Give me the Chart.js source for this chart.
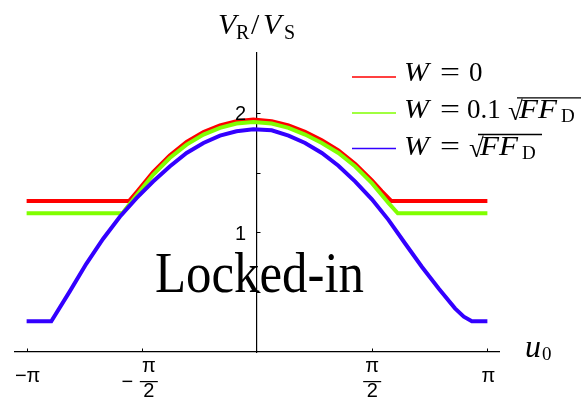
<!DOCTYPE html>
<html>
<head>
<meta charset="utf-8">
<script src="https://cdn.jsdelivr.net/npm/chart.js@4.4.1/dist/chart.umd.min.js"></script>
<style>
  html, body { margin: 0; padding: 0; background: #fff; }
  #chart { display: block; }
</style>
</head>
<body>
<canvas id="chart" width="587" height="406"></canvas>
<script>
// V_R / V_S against u0 (rad), one pair of arrays per curve
const redU   = [-3.1416, -1.745, -1.64, -1.417, -1.19, -0.96, -0.73, -0.505, -0.28, -0.05, 0.2, 0.43, 0.656, 0.884, 1.11, 1.34, 1.567, 1.70, 1.83, 3.1416];
const redV   = [1.263, 1.263, 1.338, 1.504, 1.644, 1.756, 1.840, 1.895, 1.930, 1.944, 1.930, 1.895, 1.840, 1.770, 1.686, 1.573, 1.434, 1.345, 1.263, 1.263];

const greenU = [-3.1416, -1.835, -1.64, -1.417, -1.19, -0.96, -0.73, -0.505, -0.28, -0.05, 0.2, 0.43, 0.656, 0.884, 1.11, 1.34, 1.567, 1.795, 1.92, 3.1416];
const greenV = [1.160, 1.160, 1.313, 1.482, 1.622, 1.734, 1.818, 1.874, 1.910, 1.924, 1.910, 1.874, 1.818, 1.748, 1.664, 1.551, 1.412, 1.244, 1.160, 1.160];

const blueU  = [-3.1416, -2.805, -2.555, -2.33, -2.10, -1.87, -1.643, -1.417, -1.19, -0.96, -0.73, -0.505, -0.28, -0.05, 0.2, 0.43, 0.656, 0.884, 1.11, 1.34, 1.567, 1.795, 2.02, 2.25, 2.48, 2.70, 2.82, 2.93, 3.1416];
const blueV  = [0.257, 0.257, 0.505, 0.735, 0.945, 1.131, 1.286, 1.425, 1.551, 1.664, 1.748, 1.809, 1.845, 1.862, 1.854, 1.809, 1.748, 1.664, 1.557, 1.425, 1.277, 1.103, 0.907, 0.711, 0.529, 0.365, 0.295, 0.257, 0.257];

const seriesNames  = ['W = 0', 'W = 0.1 √FF_D', 'W = √FF_D'];
const seriesColors = ['#ff0000', '#80ff00', '#3300ff'];

const xTickValues = [-Math.PI, -Math.PI / 2, Math.PI / 2, Math.PI];
const xTickLabels = ['−π', '−π/2', 'π/2', 'π'];
const yLabelValues = [1, 2];

const SERIF = '"Liberation Serif", "DejaVu Serif", serif';
const SANS = '"Liberation Sans", Arial, sans-serif';

function pts(us, vs) { return us.map((u, i) => ({ x: u, y: vs[i] })); }

// squeeze/stretch a string to a given width
function fitText(ctx, text, x, y, w) {
  const m = ctx.measureText(text).width;
  ctx.save();
  ctx.translate(x, y);
  ctx.scale(w / m, 1);
  ctx.fillText(text, 0, 0);
  ctx.restore();
}

function seg(ctx, x1, y1, x2, y2) {
  ctx.beginPath(); ctx.moveTo(x1, y1); ctx.lineTo(x2, y2); ctx.stroke();
}

// tick marks, tick labels, axis names, legend and the region label
const decor = {
  id: 'decor',
  afterDraw(chart) {
    const { ctx, scales: { x, y } } = chart;
    const x0 = x.getPixelForValue(0);
    const y0 = y.getPixelForValue(0);
    ctx.save();
    ctx.strokeStyle = '#000';
    ctx.fillStyle = '#000';
    ctx.lineWidth = 1;

    // inward ticks
    x.ticks.forEach(t => {
      const px = Math.round(x.getPixelForValue(t.value)) + 0.5;
      seg(ctx, px, y0, px, y0 - 3.5);
    });
    y.ticks.forEach(t => {
      if (t.value <= y.min || t.value >= y.max) return;
      const py = Math.round(y.getPixelForValue(t.value)) + 0.5;
      seg(ctx, x0, py, x0 + 3.5, py);
    });

    // y labels
    ctx.font = '20px ' + SANS;
    ctx.textAlign = 'right';
    ctx.textBaseline = 'alphabetic';
    yLabelValues.forEach(v => {
      ctx.fillText(String(v), x0 - 11, y.getPixelForValue(v) + 7.4);
    });

    // x labels, halves written as stacked fractions
    ctx.textAlign = 'center';
    xTickValues.forEach((v, i) => {
      const px = x.getPixelForValue(v);
      const lab = xTickLabels[i];
      if (lab.indexOf('/') < 0) {
        ctx.fillText(lab, px + 1, y0 + 29.5);
        return;
      }
      const neg = lab[0] === '−';
      const [num, den] = lab.replace('−', '').split('/');
      const fx = neg ? px + 7 : px;
      if (neg) ctx.fillText('−', px - 14.5, y0 + 36);
      ctx.fillText(num, fx, y0 + 19.5);
      ctx.fillRect(fx - 9, y0 + 29, 18, 1.2);
      ctx.fillText(den, fx, y0 + 45.3);
    });

    // axis names
    ctx.textAlign = 'left';
    ctx.font = 'italic 30px ' + SERIF;
    ctx.fillText('V', 218, 33.5);
    ctx.font = '20px ' + SERIF;
    ctx.fillText('R', 236, 39.3);
    ctx.font = '30px ' + SERIF;
    ctx.fillText('/', 251, 33.5);
    ctx.font = 'italic 30px ' + SERIF;
    ctx.fillText('V', 263, 33.5);
    ctx.font = '20px ' + SERIF;
    ctx.fillText('S', 284, 39.3);

    ctx.font = 'italic 32px ' + SERIF;
    ctx.fillText('u', 525, 356.5);
    ctx.font = '19px ' + SERIF;
    ctx.fillText('0', 542, 359.5);

    // legend
    const rows = [
      { line: 77,    base: 81,    coef: '0',   coefX: 469, rootX: null },
      { line: 113,   base: 118.3, coef: '0.1', coefX: 467, rootX: 508 },
      { line: 148.5, base: 155,   coef: '',    coefX: 0,   rootX: 469 }
    ];
    rows.forEach((r, i) => {
      ctx.strokeStyle = chart.data.datasets[i].borderColor;
      ctx.lineWidth = 1.6;
      seg(ctx, 352, r.line, 396, r.line);
      ctx.fillStyle = '#000';
      ctx.strokeStyle = '#000';
      ctx.font = 'italic 27px ' + SERIF;
      fitText(ctx, 'W', 404, r.base, 25);
      ctx.font = '27px ' + SERIF;
      fitText(ctx, '=', 440, r.base, 20);
      if (r.coef) ctx.fillText(r.coef, r.coefX, r.base);
      if (r.rootX !== null) {
        ctx.fillText('√', r.rootX, r.base + 2);
        const fx = r.rootX + 11;
        ctx.font = 'italic 27px ' + SERIF;
        fitText(ctx, 'FF', fx, r.base, 38);
        ctx.font = '19px ' + SERIF;
        ctx.fillText('D', fx + 42, r.base + 4);
        ctx.lineWidth = 1.3;
        seg(ctx, r.rootX + 9, r.base - 20.5, fx + 62, r.base - 20.5);
      }
    });

    // region label
    ctx.font = '56px ' + SERIF;
    fitText(ctx, 'Locked-in', 155, 292, 209);
    ctx.restore();
  }
};

const lineStyle = (i, us, vs, order) => ({
  label: seriesNames[i],
  data: pts(us, vs),
  borderColor: seriesColors[i],
  backgroundColor: seriesColors[i],
  borderWidth: 4,
  pointRadius: 0,
  tension: 0,
  fill: false,
  order: order
});

new Chart(document.getElementById('chart'), {
  type: 'line',
  data: {
    datasets: [
      lineStyle(0, redU, redV, 2),
      lineStyle(1, greenU, greenV, 1),
      lineStyle(2, blueU, blueV, 0)
    ]
  },
  options: {
    responsive: false,
    devicePixelRatio: 1,
    animation: false,
    layout: { padding: { left: 15, right: 88, top: 53, bottom: 54 } },
    plugins: { legend: { display: false }, tooltip: { enabled: false } },
    scales: {
      x: {
        type: 'linear',
        min: -3.3,
        max: 3.3,
        position: { y: 0 },
        afterBuildTicks: s => { s.ticks = xTickValues.map(v => ({ value: v })); },
        ticks: { display: false },
        grid: { display: false },
        border: { display: true, color: '#000', width: 1.2 }
      },
      y: {
        type: 'linear',
        min: 0,
        max: 2.5,
        position: { x: 0 },
        ticks: { display: false, stepSize: 0.5 },
        grid: { display: false },
        border: { display: true, color: '#000', width: 1.2 }
      }
    }
  },
  plugins: [decor]
});
</script>
</body>
</html>
